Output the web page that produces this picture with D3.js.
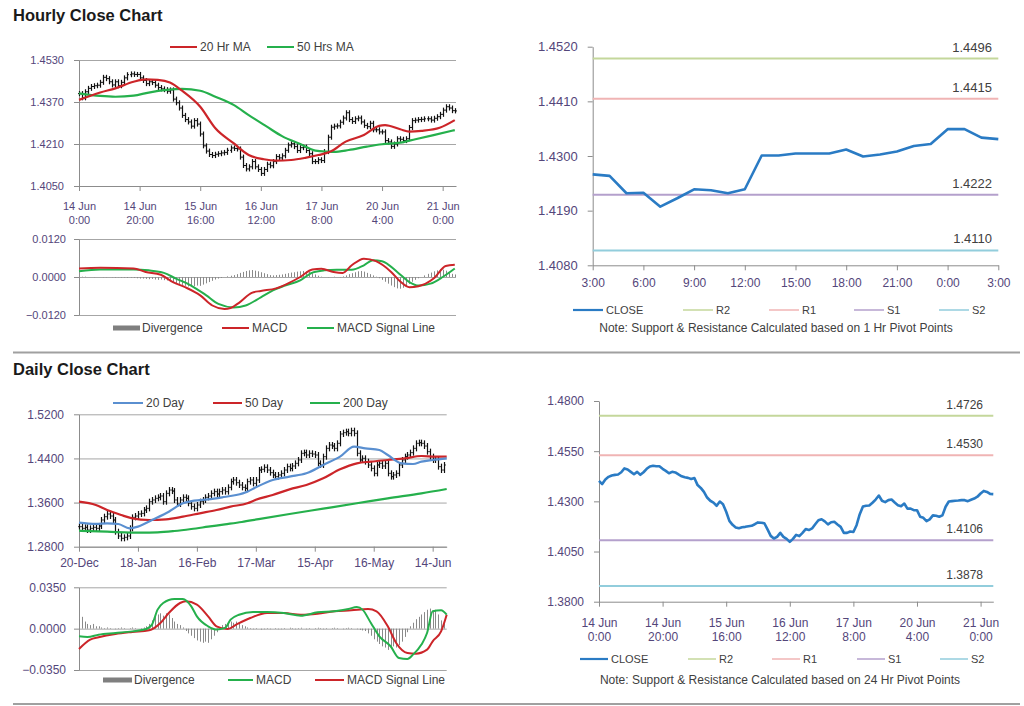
<!DOCTYPE html>
<html><head><meta charset="utf-8">
<script src="https://cdn.jsdelivr.net/npm/d3@7"></script>
<style>body{margin:0;background:#fff}svg{display:block}text{font-family:"Liberation Sans",Arial,sans-serif}</style>
</head><body><svg id="c" width="1024" height="706"></svg>
<script>
// ---------------- DATA ----------------
const hourTickIdx = [0,20,40,60,80,100,120];
const hourLabels = [["14 Jun","0:00"],["14 Jun","20:00"],["15 Jun","16:00"],["16 Jun","12:00"],["17 Jun","8:00"],["20 Jun","4:00"],["21 Jun","0:00"]];
const dayTickIdx = [0,21,42,63,84,105,126];
const dayLabels = ["20-Dec","18-Jan","16-Feb","17-Mar","15-Apr","16-May","14-Jun"];
const lastDayTickIdx = [0,3,6,9,12,15,18,21,24];
const lastDayLabels = ["3:00","6:00","9:00","12:00","15:00","18:00","21:00","0:00","3:00"];

// hourly closes 14 Jun 0:00 .. 21 Jun
const hourlyClose = [1.4402,1.4386,1.4409,1.4422,1.4429,1.4432,1.4434,1.4445,1.4464,1.4459,
1.4447,1.4435,1.4447,1.4432,1.4445,1.4462,1.4474,1.4477,1.4475,1.4475,
1.4462,1.4452,1.4440,1.4447,1.4444,1.4434,1.4425,1.4420,1.4417,1.4411,
1.4416,1.4381,1.4367,1.4347,1.4319,1.4303,1.4294,1.4278,1.4299,1.4286,
1.4248,1.4203,1.4183,1.4170,1.4166,1.4171,1.4173,1.4176,1.4178,1.4186,
1.4195,1.4193,1.4191,1.4160,1.4128,1.4115,1.4123,1.4143,1.4123,1.4113,
1.4098,1.4113,1.4133,1.4127,1.4143,1.4162,1.4157,1.4165,1.4186,1.4206,
1.4211,1.4200,1.4185,1.4196,1.4198,1.4185,1.4173,1.4143,1.4143,1.4150,
1.4147,1.4181,1.4236,1.4274,1.4278,1.4279,1.4293,1.4309,1.4329,1.4303,
1.4296,1.4306,1.4309,1.4294,1.4281,1.4276,1.4289,1.4264,1.4264,1.4256,
1.4256,1.4223,1.4218,1.4201,1.4210,1.4230,1.4228,1.4223,1.4230,1.4273,
1.4299,1.4301,1.4303,1.4304,1.4306,1.4306,1.4301,1.4308,1.4314,1.4323,
1.4339,1.4352,1.4347,1.4337,1.4336];
const ma20Hr = [[0,1.4378],[7,1.4406],[12,1.4422],[18,1.4447],[22,1.4456],[26,1.4454],[30,1.4444],[34,1.4413],[40,1.4352],[45,1.4270],[51,1.4213],[56,1.4168],[61,1.4152],[65,1.4147],[70,1.4149],[75,1.4158],[79,1.4168],[83,1.4181],[88,1.4219],[94,1.4244],[99,1.4279],[101,1.4282],[106,1.4266],[109,1.4257],[113,1.4260],[119,1.4272],[124,1.4301]];
const ma50Hr = [[0,1.4403],[7,1.4393],[12,1.4390],[18,1.4394],[23,1.4406],[29,1.4416],[34,1.4420],[40,1.4413],[45,1.4390],[51,1.4359],[56,1.4320],[62,1.4276],[67,1.4240],[73,1.4210],[78,1.4185],[82,1.4181],[84,1.4180],[89,1.4187],[95,1.4200],[100,1.4209],[106,1.4215],[111,1.4228],[117,1.4244],[124,1.4263]];
const macdHr = [[0,0.0027],[7,0.0029],[18,0.0027],[22,0.0016],[27,0.0007],[31,-0.0016],[35,-0.0032],[40,-0.0058],[44,-0.0090],[48,-0.0101],[50,-0.0098],[53,-0.0080],[57,-0.0050],[60,-0.0044],[65,-0.0036],[69,-0.0020],[73,0.0000],[77,0.0024],[80,0.0026],[84,0.0016],[87,0.0013],[90,0.0037],[94,0.0058],[98,0.0050],[103,0.0016],[106,-0.0014],[109,-0.0032],[112,-0.0029],[117,-0.0005],[121,0.0035],[124,0.0039]];
const signalHr = [[0,0.0018],[7,0.0024],[18,0.0024],[23,0.0021],[28,0.0013],[32,-0.0005],[37,-0.0027],[42,-0.0058],[46,-0.0085],[51,-0.0096],[55,-0.0090],[60,-0.0064],[64,-0.0042],[68,-0.0027],[73,-0.0011],[77,0.0014],[81,0.0021],[85,0.0023],[90,0.0023],[94,0.0037],[97,0.0053],[100,0.0050],[105,0.0016],[109,-0.0016],[112,-0.0027],[116,-0.0021],[120,0.0000],[124,0.0027]];
const divergenceHr = [0.0002,0.0001,0.0001,0,0,-0.0001,0,0,-0.0001,-0.0001,0,-0.0001,-0.0002,-0.0001,-0.0002,-0.0002,-0.0003,-0.0002,
-0.0003,-0.0004,-0.0005,-0.0005,-0.0006,-0.0007,-0.0006,-0.0008,-0.0009,-0.0008,-0.0010,
-0.0011,-0.0013,-0.0016,-0.0019,-0.0022,-0.0025,-0.0028,-0.0030,-0.0031,-0.0029,-0.0027,-0.0028,-0.0024,-0.0020,-0.0016,-0.0012,-0.0008,
-0.0005,-0.0003,0,0.0002,0.0004,0.0006,0.0009,
0.0013,0.0016,0.0019,0.0021,0.0022,0.0020,0.0018,0.0015,0.0012,0.0009,
0.0006,0.0005,0.0006,0.0007,0.0008,0.0010,0.0012,0.0014,
0.0015,0.0017,0.0018,0.0019,0.0018,0.0016,0.0012,0.0008,
0.0004,0.0001,0,-0.0001,0,0.0001,0,-0.0001,0.0002,0.0005,
0.0009,0.0012,0.0015,0.0018,0.0019,0.0017,0.0013,
0.0009,0.0005,0.0001,-0.0004,
-0.0009,-0.0015,-0.0021,-0.0027,-0.0032,-0.0036,-0.0037,-0.0034,-0.0029,-0.0022,-0.0015,
-0.0009,-0.0004,0,0.0005,0.0010,0.0014,
0.0018,0.0021,0.0024,0.0023,0.0020,0.0016,
0.0010,0.0008];

// last 24 hours (1 Hr pivot chart)
const lastDayClose = [1.4263,1.4260,1.4225,1.4226,1.4198,1.4215,1.4233,1.4231,1.4225,1.4233,1.4301,1.4301,1.4305,1.4305,1.4305,1.4313,1.4299,1.4303,1.4309,1.4320,1.4324,1.4354,1.4354,1.4337,1.4334];
const pivotNames = ["R2","R1","S1","S2"];
const pivot1Hr = [1.4496,1.4415,1.4222,1.4110];
const pivot24Hr = [1.4726,1.4530,1.4106,1.3878];

// daily closes 20-Dec .. 20-Jun
const dailyClose = [1.3163,1.3133,1.3151,1.3103,1.3133,1.3151,1.3133,1.3175,1.3284,1.3344,
1.3393,1.3356,1.3284,1.3072,1.2994,1.2952,1.2970,1.2994,1.3133,1.3332,
1.3356,1.3393,1.3404,1.3465,1.3495,1.3616,1.3647,1.3677,1.3695,1.3719,
1.3616,1.3767,1.3827,1.3809,1.3647,1.3575,1.3647,1.3695,1.3677,1.3587,
1.3526,1.3495,1.3556,1.3616,1.3647,1.3695,1.3719,1.3767,1.3798,1.3755,
1.3798,1.3827,1.3798,1.3876,1.3979,1.4009,1.3960,1.3918,1.3876,1.3858,
1.3979,1.4009,1.3948,1.4009,1.4190,1.4203,1.4239,1.4190,1.4142,1.4100,
1.4070,1.4100,1.4130,1.4190,1.4251,1.4220,1.4263,1.4311,1.4372,1.4493,
1.4505,1.4462,1.4493,1.4480,1.4462,1.4311,1.4281,1.4432,1.4583,1.4643,
1.4625,1.4583,1.4674,1.4843,1.4867,1.4885,1.4855,1.4903,1.4855,1.4493,
1.4372,1.4402,1.4342,1.4281,1.4220,1.4130,1.4281,1.4311,1.4263,1.4311,
1.4130,1.4070,1.4100,1.4130,1.4281,1.4372,1.4432,1.4462,1.4505,1.4583,
1.4674,1.4686,1.4674,1.4625,1.4523,1.4432,1.4372,1.4384,1.4251,1.4190,
1.4281];
const ma20Day = [[0,1.3236],[6,1.3212],[10,1.3224],[14,1.3212],[18,1.3133],[21,1.3163],[26,1.3284],[32,1.3435],[37,1.3587],[41,1.3635],[46,1.3659],[51,1.3695],[56,1.3737],[60,1.3798],[63,1.3876],[69,1.4009],[75,1.4070],[81,1.4130],[87,1.4281],[93,1.4432],[98,1.4613],[102,1.4583],[107,1.4553],[110,1.4462],[115,1.4311],[119,1.4299],[122,1.4342],[126,1.4372],[131,1.4402]];
const ma50Day = [[0,1.3616],[6,1.3556],[10,1.3465],[15,1.3375],[19,1.3314],[25,1.3284],[31,1.3296],[37,1.3344],[43,1.3405],[49,1.3465],[54,1.3526],[60,1.3587],[63,1.3650],[69,1.3737],[75,1.3840],[81,1.3918],[87,1.4039],[93,1.4202],[99,1.4311],[104,1.4342],[110,1.4372],[116,1.4402],[122,1.4444],[127,1.4432],[131,1.4432]];
const ma200Day = [[0,1.3090],[10,1.3072],[22,1.3054],[28,1.3060],[34,1.3085],[40,1.3121],[46,1.3163],[52,1.3205],[58,1.3248],[64,1.3300],[75,1.3393],[87,1.3490],[99,1.3587],[110,1.3677],[122,1.3767],[131,1.3846]];
const macdDay = [[0,-0.0065],[3,-0.0070],[7,-0.0051],[13,-0.0037],[19,-0.0023],[24,-0.0003],[26,0.0034],[28,0.0161],[30,0.0217],[34,0.0251],[37,0.0251],[40,0.0189],[42,0.0104],[46,0.0020],[49,-0.0008],[52,0.0006],[54,0.0076],[57,0.0118],[62,0.0141],[67,0.0141],[73,0.0132],[79,0.0110],[85,0.0138],[91,0.0147],[96,0.0166],[99,0.0183],[101,0.0161],[104,0.0048],[107,-0.0065],[111,-0.0149],[114,-0.0248],[117,-0.0257],[119,-0.0220],[122,-0.0135],[124,-0.0037],[126,0.0147],[129,0.0155],[131,0.0118]];
const signalDay = [[0,-0.0172],[4,-0.0093],[7,-0.0073],[13,-0.0045],[19,-0.0028],[25,-0.0014],[29,0.0048],[32,0.0132],[36,0.0217],[38,0.0231],[42,0.0203],[46,0.0104],[49,0.0020],[53,-0.0003],[56,0.0034],[61,0.0090],[67,0.0132],[73,0.0132],[79,0.0118],[85,0.0127],[91,0.0147],[97,0.0155],[103,0.0166],[106,0.0147],[110,0.0020],[113,-0.0121],[117,-0.0206],[120,-0.0212],[124,-0.0178],[126,-0.0107],[129,-0.0023],[131,0.0118]];
const divergenceDay = [0.008,0.010,0.006,
0.004,0.003,0.004,0.002,0.002,
0.001,0.0005,0.001,0.0005,0,-0.0005,0.0005,0.001,0.0005,0,0.0005,0.001,0.0005,0,0.0005,0.001,0.002,
0.004,0.007,0.010,0.012,0.013,0.011,0.013,0.012,0.009,0.006,
0.004,0.003,0.001,
-0.002,-0.004,-0.006,-0.008,-0.010,-0.011,-0.012,-0.011,-0.012,-0.009,-0.006,-0.003,
0.001,0.003,0.004,0.005,0.006,0.005,0.006,0.004,0.003,0.002,0.001,
0.0005,-0.0005,0.0005,0,-0.0008,-0.0005,0.0005,-0.0005,0,0.0005,-0.0005,-0.0005,0.0005,0,0.0008,0.0005,-0.0005,0.0005,0.0008,0,-0.0005,0.0005,0,0.0005,0.0008,0.0005,-0.0005,0.0005,0,0.0005,0.0008,0.0005,0,-0.0005,0.0005,0.0008,0.0005,0,-0.0005,-0.001,-0.0015,
-0.002,-0.004,-0.006,-0.009,-0.011,-0.013,-0.015,-0.016,-0.018,-0.017,-0.015,-0.016,-0.014,-0.011,-0.007,-0.003,
0.002,0.005,0.008,0.010,0.012,0.014,0.016,0.017,0.015,0.016,0.012,0.007,
0.004];

// ---------------- STYLE ----------------
const LBL = "#54467a", AX = "#8c8c8c", GRID = "#a6a6a6", TXT = "#404040";
const RED = "#cc2529", GREEN = "#25b04c", BLUE20 = "#5a8fd0", CLOSE = "#2a7bc4", DIVC = "#8a8a8a";
const PIV = ["#c4d79b","#f0b4b4","#b4a0cc","#92cddc"];
const f4 = d3.format(".4f");
const svg = d3.select("#c");

function txt(g, x, y, s, o = {}) {
  return g.append("text").attr("x", x).attr("y", y).text(s)
    .attr("font-size", o.size || 11).attr("fill", o.fill || TXT)
    .attr("text-anchor", o.anchor || "start").attr("font-weight", o.weight || "normal");
}
function styleAxis(a, size) {
  a.select(".domain").attr("stroke", AX);
  a.selectAll(".tick line").attr("stroke", AX);
  a.selectAll("text").attr("fill", LBL).attr("font-size", size).attr("font-family", '"Liberation Sans",Arial,sans-serif');
}
function grid(g, x, y, vals) {
  const [x0, x1] = x.range();
  g.append("g").attr("transform", `translate(${x0},0)`)
    .call(d3.axisLeft(y).tickValues(vals).tickSize(-(x1 - x0)).tickFormat(""))
    .call(a => { a.select(".domain").remove(); a.selectAll("line").attr("stroke", GRID); });
}
function yAxis(g, x, y, vals, size, pad) {
  const a = g.append("g").attr("transform", `translate(${x.range()[0]},0)`)
    .call(d3.axisLeft(y).tickValues(vals).tickSize(5).tickSizeOuter(0).tickPadding(pad).tickFormat(f4));
  styleAxis(a, size);
}
function xAxis(g, x, y, vals, labels, size, pad, lh) {
  const a = g.append("g").attr("transform", `translate(0,${y.range()[0]})`)
    .call(d3.axisBottom(x).tickValues(vals).tickSize(5).tickSizeOuter(0).tickFormat(""));
  styleAxis(a, size);
  if (labels) {
    a.selectAll(".tick").each(function (d, i) {
      const lab = labels[i];
      const t = d3.select(this).append("text").attr("fill", LBL).attr("font-size", size)
        .attr("text-anchor", "middle").attr("y", pad);
      (Array.isArray(lab) ? lab : [lab]).forEach((s, k) =>
        t.append("tspan").attr("x", 0).attr("dy", k === 0 ? 0 : lh).text(s));
    });
  }
  return a;
}
function line(g, pts, x, y, color, w, curve) {
  g.append("path").datum(pts).attr("fill", "none").attr("stroke", color).attr("stroke-width", w)
    .attr("stroke-linejoin", "round")
    .attr("d", d3.line().x(d => x(d[0])).y(d => y(d[1])).curve(curve || d3.curveMonotoneX));
}
function ohlc(g, closes, x, y, pad, tick) {
  closes.forEach((c, i) => {
    const o = i > 0 ? closes[i - 1] : c;
    const X = Math.round(x(i)) + 0.5;
    const yHi = y(Math.max(o, c)) - pad, yLo = y(Math.min(o, c)) + pad;
    g.append("line").attr("x1", X).attr("x2", X).attr("y1", yHi).attr("y2", yLo).attr("stroke", "#111").attr("stroke-width", 1.2);
    g.append("line").attr("x1", X - tick).attr("x2", X).attr("y1", y(o)).attr("y2", y(o)).attr("stroke", "#111");
    g.append("line").attr("x1", X).attr("x2", X + tick).attr("y1", y(c)).attr("y2", y(c)).attr("stroke", "#111");
  });
}
function histo(g, vals, x, y) {
  vals.forEach((v, i) => {
    const X = Math.round(x(i)) + 0.5;
    g.append("line").attr("x1", X).attr("x2", X).attr("y1", y(0)).attr("y2", y(v)).attr("stroke", DIVC).attr("stroke-width", 1);
  });
}
function legendLine(g, x, y, w, color, sw, label, size) {
  g.append("line").attr("x1", x).attr("x2", x + w).attr("y1", y).attr("y2", y).attr("stroke", color).attr("stroke-width", sw);
  txt(g, x + w + 3, y + 4, label, { size: size });
}
function legendBar(g, x, y, w, label, size) {
  g.append("rect").attr("x", x).attr("y", y - 2.5).attr("width", w).attr("height", 5).attr("fill", "#7f7f7f");
  txt(g, x + w + 2, y + 4, label, { size: size });
}

// ---------------- TITLES & SEPARATORS ----------------
txt(svg, 13, 21, "Hourly Close Chart", { size: 16.5, weight: "bold", fill: "#1a1a1a" });
txt(svg, 13, 375, "Daily Close Chart", { size: 16.5, weight: "bold", fill: "#1a1a1a" });
[352.5, 704].forEach(yy => svg.append("line").attr("x1", 13).attr("x2", 1020).attr("y1", yy).attr("y2", yy).attr("stroke", "#a0a0a0").attr("stroke-width", 2));

// ---------------- HOURLY CANDLES (top-left) ----------------
{
  const g = svg.append("g");
  const x = d3.scaleLinear().domain([0, 124.4]).range([79, 456]);
  const y = d3.scaleLinear().domain([1.4050, 1.4530]).range([186, 60]);
  const yT = [1.4050, 1.4210, 1.4370, 1.4530];
  grid(g, x, y, yT);
  yAxis(g, x, y, yT, 11, 10);
  xAxis(g, x, y, hourTickIdx, hourLabels, 11, 24, 14);
  ohlc(g, hourlyClose, x, y, 2.5, 1.5);
  line(g, ma50Hr, x, y, GREEN, 2.2);
  line(g, ma20Hr, x, y, RED, 2.2);
  legendLine(g, 170, 47, 27, RED, 2, "20 Hr MA", 12);
  legendLine(g, 267, 47, 27, GREEN, 2, "50 Hrs MA", 12);
}
// ---------------- HOURLY MACD ----------------
{
  const g = svg.append("g");
  const x = d3.scaleLinear().domain([0, 124.4]).range([79, 456]);
  const y = d3.scaleLinear().domain([-0.012, 0.012]).range([315, 239]);
  const yT = [-0.012, 0, 0.012];
  grid(g, x, y, yT);
  yAxis(g, x, y, yT, 11, 8);
  histo(g, divergenceHr, x, y);
  line(g, signalHr, x, y, GREEN, 2);
  line(g, macdHr, x, y, RED, 2);
  legendBar(g, 113, 328, 27, "Divergence", 12);
  legendLine(g, 222, 328, 27, RED, 2, "MACD", 12);
  legendLine(g, 307, 328, 27, GREEN, 2, "MACD Signal Line", 12);
}
// ---------------- PIVOT CHARTS ----------------
function pivotChart(cfg) {
  const g = svg.append("g");
  const { x, y } = cfg;
  yAxis(g, x, y, cfg.yT, cfg.ySize, 10);
  xAxis(g, x, y, cfg.xT, cfg.xLabels, 12, cfg.xPad, 14);
  cfg.levels.forEach((v, k) => {
    g.append("line").attr("x1", x.range()[0]).attr("x2", x.range()[1]).attr("y1", y(v)).attr("y2", y(v))
      .attr("stroke", PIV[k]).attr("stroke-width", 2);
    txt(g, cfg.lblX, y(v) - 7, f4(v), { size: cfg.lvlSize, anchor: "end" });
  });
  line(g, cfg.data, x, y, CLOSE, 2.6, d3.curveLinear);
  const L = cfg.legend;
  legendLine(g, L.xs[0], L.y, L.w, CLOSE, 2.2, "CLOSE", 11);
  pivotNames.forEach((n, k) => legendLine(g, L.xs[k + 1], L.y, L.w, PIV[k], 1.5, n, 11));
  txt(g, L.noteX, L.noteY, cfg.note, { size: 12, anchor: "middle" });
}
pivotChart({
  x: d3.scaleLinear().domain([0, 24]).range([592.7, 998.3]),
  y: d3.scaleLinear().domain([1.4080, 1.4520]).range([265.3, 46.7]),
  yT: [1.4080, 1.4190, 1.4300, 1.4410, 1.4520], ySize: 13,
  xT: lastDayTickIdx, xLabels: lastDayLabels, xPad: 22,
  levels: pivot1Hr, lblX: 992, lvlSize: 13,
  data: lastDayClose.map((v, i) => [i, v]),
  legend: { xs: [573, 683, 769, 854, 939], y: 310, w: 30, noteX: 776, noteY: 332 },
  note: "Note: Support & Resistance Calculated based on 1 Hr Pivot Points"
});
pivotChart({
  x: d3.scaleLinear().domain([0, 124]).range([599, 993.3]),
  y: d3.scaleLinear().domain([1.3800, 1.4800]).range([601.7, 401]),
  yT: [1.3800, 1.4050, 1.4300, 1.4550, 1.4800], ySize: 12,
  xT: hourTickIdx, xLabels: hourLabels, xPad: 25,
  levels: pivot24Hr, lblX: 983, lvlSize: 12,
  data: hourlyClose.map((v, i) => [i, v]),
  legend: { xs: [580, 688, 772, 857, 940], y: 659, w: 28, noteX: 780, noteY: 684 },
  note: "Note: Support & Resistance Calculated based on 24 Hr Pivot Points"
});
// ---------------- DAILY CANDLES ----------------
{
  const g = svg.append("g");
  const x = d3.scaleLinear().domain([0, 131]).range([79, 446.7]);
  const y = d3.scaleLinear().domain([1.28, 1.52]).range([546.7, 414.3]);
  const yT = [1.28, 1.36, 1.44, 1.52];
  grid(g, x, y, yT);
  yAxis(g, x, y, yT, 12, 10);
  xAxis(g, x, y, dayTickIdx, dayLabels, 12, 20, 14);
  ohlc(g, dailyClose, x, y, 3, 1.3);
  line(g, ma200Day, x, y, GREEN, 2.2);
  line(g, ma50Day, x, y, RED, 2.2);
  line(g, ma20Day, x, y, BLUE20, 2.2);
  legendLine(g, 113, 403, 30, BLUE20, 2, "20 Day", 12);
  legendLine(g, 213, 403, 29, RED, 2, "50 Day", 12);
  legendLine(g, 310, 403, 30, GREEN, 2, "200 Day", 12);
}
// ---------------- DAILY MACD ----------------
{
  const g = svg.append("g");
  const x = d3.scaleLinear().domain([0, 131]).range([79, 446.7]);
  const y = d3.scaleLinear().domain([-0.035, 0.035]).range([670, 587.3]);
  const yT = [-0.035, 0, 0.035];
  grid(g, x, y, yT);
  yAxis(g, x, y, yT, 12, 8);
  histo(g, divergenceDay, x, y);
  line(g, signalDay, x, y, RED, 2);
  line(g, macdDay, x, y, GREEN, 2);
  legendBar(g, 103, 680, 29, "Divergence", 12);
  legendLine(g, 228, 680, 25, GREEN, 2, "MACD", 12);
  legendLine(g, 315, 680, 29, RED, 2, "MACD Signal Line", 12);
}
</script></body></html>
